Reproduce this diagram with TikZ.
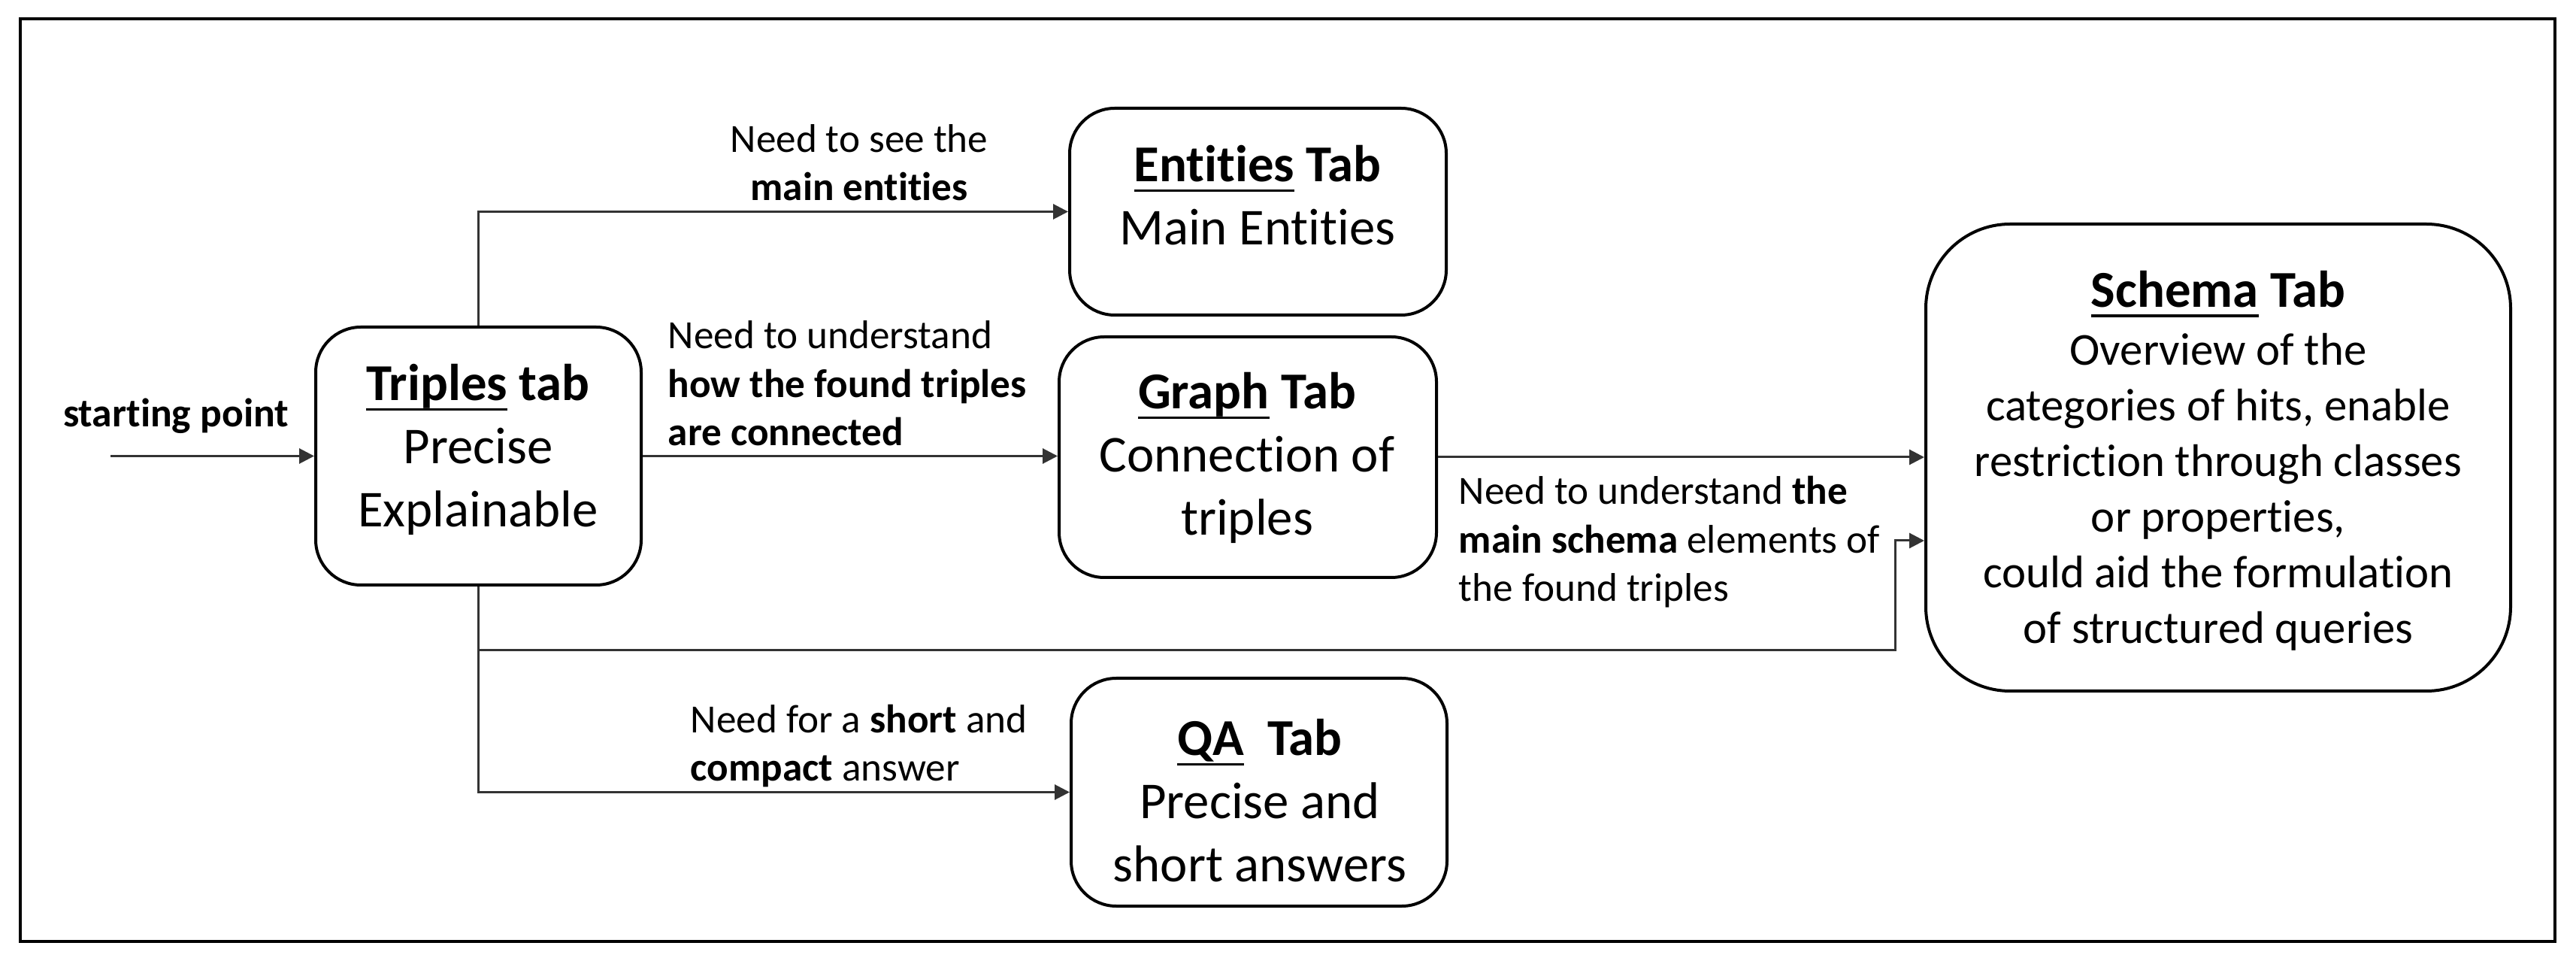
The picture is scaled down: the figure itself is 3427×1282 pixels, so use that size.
\documentclass[tikz,border=0pt]{standalone}
\usepackage{fontspec}
\setmainfont{Carlito}[Ligatures=NoCommon]
\newcommand{\myul}[1]{\leavevmode\setbox0=\hbox{#1}\rlap{\rule[-3.4pt]{\wd0}{0.9pt}}\box0\relax}
\usetikzlibrary{arrows.meta}
\tikzset{
  tab/.style={draw=black, line width=1pt, rounded corners=15pt, inner sep=0pt},
  conn/.style={draw=black!80, line width=0.75pt, -{Triangle[length=5pt,width=5pt]}},
  boxtext/.style={align=center, font=\fontsize{17.2}{21}\selectfont, inner sep=0pt},
  schtext/.style={align=center, font=\fontsize{15.2}{18.5}\selectfont, inner sep=0pt},
  lbl/.style={align=left, font=\fontsize{13.3}{16.1}\selectfont, inner sep=0pt},
}
\begin{document}
\begin{tikzpicture}[x=0.25pt,y=-0.25pt]
\useasboundingbox (0,0) rectangle (3427,1282);
\draw[line width=1.1pt] (27,25) rectangle (3399,1252);

% boxes
\node[tab, minimum width=108.25pt, minimum height=85.75pt] (trip) at (636.5,606.5) {};
\node[tab, minimum width=125.25pt, minimum height=68.75pt] (ent) at (1673.5,281.5) {};
\node[tab, minimum width=125.5pt, minimum height=80pt] (graph) at (1660,608) {};
\node[tab, minimum width=125pt, minimum height=75.75pt] (qa) at (1675,1053.5) {};
\node[tab, rounded corners=28pt, minimum width=194.5pt, minimum height=155.25pt] (sch) at (2951,608.5) {};

% box texts
\node[boxtext] (tripT) at (636,598) {\textbf{\myul{Triples} tab}\\Precise\\Explainable};
\node[boxtext] (entT) at (1673,260) {\textbf{\myul{Entities} Tab}\\Main Entities};
\node[boxtext] (graphT) at (1659,609) {\textbf{\myul{Graph} Tab}\\Connection of\\triples};
\node[boxtext] (qaT) at (1676,1065) {\textbf{\myul{QA}\hspace{0.45em}Tab}\\Precise and\\short answers};
\node[boxtext] (schT) at (2951,391) {\textbf{\myul{Schema} Tab}};
\node[schtext] (schB) at (2951,654) {Overview of the\\categories of hits, enable\\restriction through classes\\or properties,\\could aid the formulation\\of structured queries};

% labels
\node[font=\bfseries\fontsize{13.4}{16}\selectfont, inner sep=0pt] (sp) at (234,553) {starting point};
\node[lbl, align=center] (l1) at (1143,216) {Need to see the\\\textbf{main entities}};
\node[lbl, anchor=west] (l2) at (888,510) {Need to understand\\\textbf{how the found triples}\\\textbf{are connected}};
\node[lbl, anchor=west] (l3) at (1940,721) {Need to understand \textbf{the}\\\textbf{main schema} elements of\\the found triples};
\node[lbl, anchor=west] (l4) at (918,992) {Need for a \textbf{short} and\\\textbf{compact} answer};

% connectors
\coordinate (s0) at (147,606.5);
\draw[conn] (s0) -- (trip.west);
\draw[conn] (trip.north) |- (ent.west);
\draw[conn] (trip.east) -- (trip.east -| graph.west);
\draw[conn] (graph.east) -- (graph.east -| sch.west);
\path (trip.south) ++(0,85) coordinate (j1);
\coordinate (j2) at (2521,719);
\draw[conn] (trip.south) -- (j1) -| (j2) -- (j2 -| sch.west);
\draw[conn] (j1) |- (qa.west);
\end{tikzpicture}
\end{document}
